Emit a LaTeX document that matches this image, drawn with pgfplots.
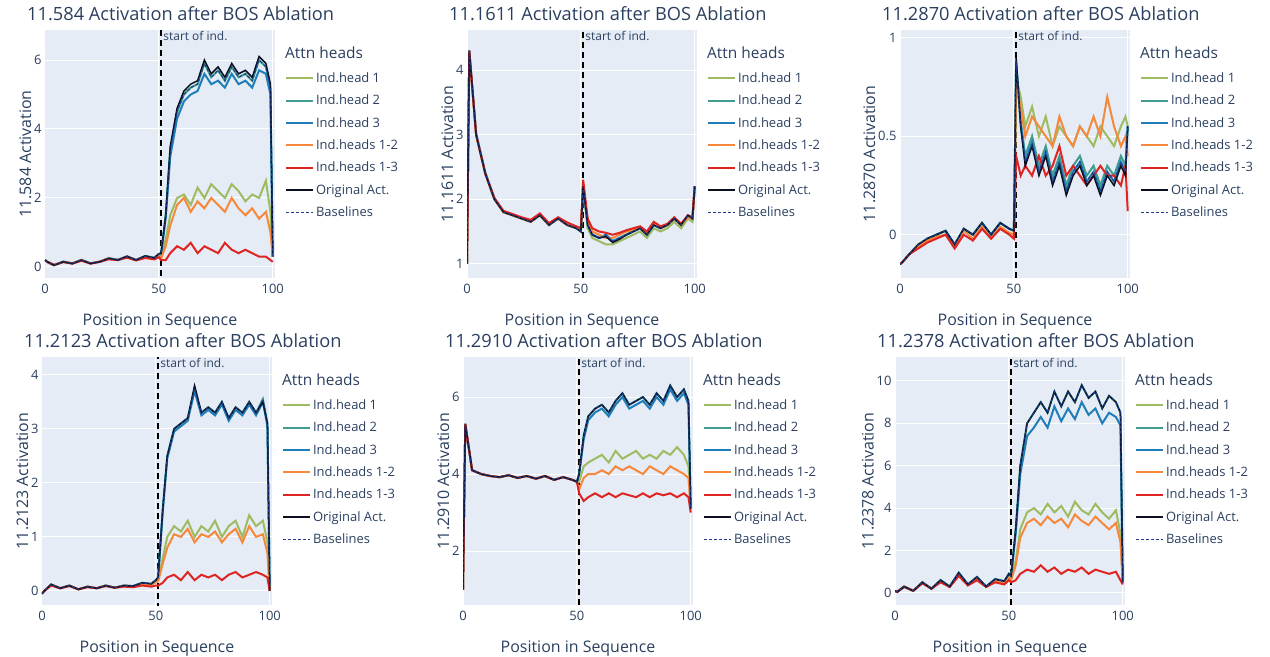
\documentclass[border=0pt]{standalone}
\usepackage{pgfplots}
\pgfplotsset{compat=1.18}
\usepackage{pgfplotstable}
\usepackage{fontspec}
\setmainfont{Open Sans}
\definecolor{txt}{HTML}{2A3F5F}
\definecolor{bgc}{HTML}{E5ECF6}
\definecolor{cA}{HTML}{9DBB61}
\definecolor{cB}{HTML}{3F9C8E}
\definecolor{cC}{HTML}{1F7DB9}
\definecolor{cD}{HTML}{F5883A}
\definecolor{cE}{HTML}{DF2424}
\definecolor{cF}{HTML}{0A1020}
\definecolor{cG}{HTML}{1F3A8A}
\pgfplotstableread{
x h1 h2 h3 h12 h13 orig base
0 0.20 0.20 0.20 0.20 0.20 0.20 0.20
1 0.15 0.15 0.14 0.15 0.15 0.15 0.15
4 0.05 0.06 0.05 0.05 0.06 0.05 0.05
8 0.15 0.15 0.16 0.15 0.14 0.15 0.15
12 0.10 0.10 0.10 0.11 0.10 0.10 0.10
16 0.20 0.20 0.21 0.20 0.18 0.20 0.20
20 0.10 0.11 0.10 0.10 0.10 0.10 0.11
24 0.15 0.15 0.15 0.16 0.15 0.15 0.15
28 0.25 0.26 0.25 0.25 0.22 0.25 0.25
32 0.20 0.20 0.21 0.20 0.20 0.20 0.20
36 0.30 0.31 0.30 0.30 0.27 0.31 0.30
40 0.20 0.21 0.20 0.20 0.19 0.20 0.21
44 0.30 0.32 0.31 0.30 0.26 0.32 0.31
48 0.25 0.27 0.26 0.25 0.22 0.26 0.26
50 0.35 0.38 0.36 0.34 0.28 0.38 0.37
51 0.30 0.40 0.38 0.25 0.20 0.40 0.40
53 0.80 1.50 1.40 0.60 0.20 1.50 1.50
55 1.50 3.40 3.20 1.20 0.40 3.50 3.40
58 2.00 4.50 4.30 1.80 0.60 4.60 4.50
61 2.10 5.00 4.80 2.00 0.50 5.10 5.00
64 1.80 5.20 5.00 1.60 0.70 5.30 5.20
67 2.30 5.30 5.10 1.90 0.40 5.40 5.30
70 2.00 5.90 5.60 1.70 0.60 6.00 5.90
73 2.40 5.50 5.30 2.00 0.50 5.60 5.50
76 2.20 5.70 5.40 1.80 0.40 5.80 5.70
79 2.00 5.40 5.20 1.60 0.70 5.50 5.40
82 2.40 5.80 5.60 2.00 0.50 5.90 5.80
85 2.20 5.50 5.30 1.70 0.40 5.60 5.50
88 1.90 5.60 5.40 1.50 0.50 5.70 5.60
91 2.10 5.40 5.20 1.70 0.40 5.50 5.40
94 2.00 6.00 5.70 1.40 0.30 6.10 6.00
97 2.50 5.80 5.60 1.60 0.30 5.90 5.80
99 1.60 5.20 5.00 1.00 0.20 5.30 5.20
100 0.30 0.30 0.30 0.30 0.15 0.30 0.30
}\tA
\pgfplotstableread{
x h1 h2 h3 h12 h13 orig base
0 1.00 1.00 1.00 1.00 1.00 1.00 1.00
1 4.25 4.30 4.30 4.25 4.30 4.30 4.30
4 3.00 3.00 3.02 3.00 3.00 3.00 3.00
8 2.40 2.40 2.42 2.40 2.40 2.40 2.40
12 2.00 2.00 2.02 2.00 2.02 2.00 2.00
16 1.80 1.80 1.80 1.80 1.82 1.80 1.80
20 1.75 1.75 1.76 1.75 1.77 1.75 1.75
24 1.70 1.70 1.70 1.70 1.72 1.70 1.70
28 1.65 1.66 1.65 1.65 1.68 1.65 1.65
32 1.75 1.75 1.76 1.75 1.78 1.75 1.75
36 1.60 1.60 1.60 1.60 1.63 1.60 1.60
40 1.70 1.70 1.71 1.70 1.72 1.70 1.70
44 1.60 1.60 1.60 1.60 1.64 1.60 1.60
48 1.55 1.55 1.56 1.56 1.58 1.55 1.55
50 1.50 1.50 1.50 1.52 1.55 1.50 1.50
51 2.20 2.20 2.20 2.25 2.30 2.20 2.20
53 1.55 1.60 1.60 1.65 1.70 1.60 1.60
55 1.40 1.45 1.45 1.50 1.55 1.45 1.45
58 1.35 1.40 1.40 1.45 1.50 1.40 1.40
61 1.30 1.45 1.45 1.40 1.48 1.42 1.45
64 1.30 1.35 1.35 1.40 1.45 1.33 1.35
67 1.35 1.40 1.40 1.45 1.48 1.38 1.40
70 1.40 1.45 1.45 1.50 1.52 1.45 1.45
73 1.45 1.50 1.50 1.52 1.55 1.50 1.50
76 1.50 1.55 1.55 1.55 1.58 1.55 1.55
79 1.40 1.45 1.45 1.48 1.50 1.45 1.45
82 1.55 1.60 1.60 1.62 1.65 1.60 1.60
85 1.50 1.55 1.55 1.55 1.58 1.55 1.55
88 1.55 1.60 1.60 1.60 1.62 1.60 1.60
91 1.65 1.70 1.70 1.70 1.72 1.70 1.70
94 1.55 1.60 1.60 1.60 1.62 1.60 1.60
97 1.70 1.75 1.75 1.72 1.75 1.75 1.75
99 1.65 1.70 1.70 1.70 1.72 1.70 1.70
100 2.20 2.20 2.20 2.20 2.20 2.20 2.20
}\tB
\pgfplotstableread{
x h1 h2 h3 h12 h13 orig base
0 -0.15 -0.15 -0.15 -0.15 -0.15 -0.15 -0.15
1 -0.14 -0.14 -0.14 -0.14 -0.14 -0.14 -0.14
4 -0.10 -0.10 -0.10 -0.10 -0.10 -0.10 -0.10
8 -0.05 -0.05 -0.06 -0.06 -0.07 -0.05 -0.05
12 -0.02 -0.02 -0.02 -0.03 -0.04 -0.02 -0.02
16 0.00 0.00 0.00 -0.01 -0.02 0.00 0.00
20 0.02 0.02 0.02 0.00 0.00 0.02 0.02
24 -0.05 -0.05 -0.05 -0.06 -0.07 -0.05 -0.05
28 0.03 0.03 0.03 0.02 0.00 0.03 0.03
32 0.00 0.00 0.00 -0.02 -0.03 0.00 0.00
36 0.06 0.06 0.06 0.04 0.03 0.06 0.06
40 0.00 0.00 0.00 -0.02 -0.02 0.00 0.00
44 0.06 0.06 0.06 0.04 0.03 0.06 0.06
48 0.03 0.03 0.03 0.01 0.00 0.03 0.03
50 0.02 0.02 0.02 0.00 -0.02 0.02 0.02
51 0.80 0.88 0.87 0.75 0.40 0.90 0.88
53 0.70 0.58 0.56 0.65 0.30 0.55 0.56
55 0.55 0.40 0.37 0.50 0.35 0.35 0.37
58 0.65 0.50 0.47 0.60 0.30 0.45 0.46
61 0.50 0.35 0.32 0.55 0.40 0.30 0.32
64 0.60 0.45 0.42 0.50 0.30 0.40 0.42
67 0.45 0.30 0.27 0.45 0.35 0.25 0.27
70 0.55 0.40 0.37 0.60 0.45 0.35 0.37
73 0.50 0.25 0.22 0.50 0.30 0.20 0.22
76 0.45 0.35 0.32 0.45 0.35 0.30 0.32
79 0.55 0.40 0.37 0.55 0.30 0.35 0.37
82 0.50 0.30 0.27 0.50 0.25 0.25 0.27
85 0.45 0.35 0.32 0.60 0.30 0.30 0.32
88 0.55 0.25 0.22 0.50 0.35 0.20 0.22
91 0.50 0.35 0.32 0.70 0.30 0.30 0.32
94 0.45 0.30 0.27 0.55 0.30 0.25 0.27
97 0.55 0.40 0.37 0.45 0.25 0.35 0.37
99 0.60 0.35 0.32 0.50 0.35 0.30 0.32
100 0.55 0.55 0.55 0.40 0.12 0.55 0.55
}\tC
\pgfplotstableread{
x h1 h2 h3 h12 h13 orig base
0 -0.05 -0.05 -0.05 -0.05 -0.05 -0.05 -0.05
1 0.00 0.00 0.00 0.00 0.00 0.00 0.00
4 0.12 0.12 0.12 0.12 0.10 0.12 0.12
8 0.05 0.05 0.05 0.05 0.05 0.05 0.05
12 0.10 0.10 0.10 0.10 0.09 0.10 0.10
16 0.03 0.03 0.03 0.03 0.03 0.03 0.03
20 0.08 0.08 0.08 0.08 0.07 0.08 0.08
24 0.05 0.05 0.05 0.05 0.05 0.05 0.05
28 0.10 0.10 0.10 0.10 0.09 0.10 0.10
32 0.06 0.06 0.06 0.06 0.06 0.06 0.06
36 0.10 0.10 0.10 0.10 0.08 0.10 0.10
40 0.08 0.09 0.09 0.08 0.07 0.09 0.09
44 0.14 0.15 0.15 0.13 0.10 0.15 0.15
48 0.12 0.13 0.13 0.11 0.08 0.13 0.13
50 0.18 0.20 0.20 0.16 0.10 0.20 0.20
51 0.20 0.25 0.25 0.18 0.10 0.25 0.25
53 0.60 1.50 1.45 0.50 0.15 1.50 1.50
55 1.00 2.50 2.45 0.80 0.25 2.50 2.50
58 1.20 3.00 2.95 1.05 0.30 3.00 3.00
61 1.10 3.10 3.05 1.00 0.20 3.10 3.10
64 1.30 3.20 3.15 1.15 0.35 3.20 3.20
67 1.00 3.75 3.70 0.90 0.20 3.80 3.75
70 1.20 3.30 3.25 1.05 0.30 3.30 3.30
73 1.10 3.40 3.35 1.00 0.25 3.40 3.40
76 1.30 3.30 3.25 1.10 0.30 3.30 3.30
79 1.00 3.50 3.45 0.90 0.20 3.50 3.50
82 1.20 3.20 3.15 1.05 0.30 3.20 3.20
85 1.30 3.40 3.35 1.15 0.35 3.40 3.40
88 1.00 3.30 3.25 0.90 0.25 3.30 3.30
91 1.40 3.50 3.45 1.20 0.30 3.50 3.50
94 1.20 3.30 3.25 1.00 0.35 3.30 3.30
97 1.30 3.55 3.50 1.05 0.30 3.50 3.55
99 0.90 3.10 3.05 0.70 0.25 3.10 3.10
100 0.00 0.00 0.00 0.00 0.00 0.00 0.00
}\tD
\pgfplotstableread{
x h1 h2 h3 h12 h13 orig base
0 1.00 1.00 1.00 1.00 1.00 1.00 1.00
1 5.30 5.30 5.30 5.30 5.30 5.30 5.30
4 4.10 4.10 4.10 4.10 4.10 4.10 4.10
8 4.00 4.00 4.00 4.00 4.00 4.00 4.00
12 3.95 3.95 3.95 3.95 3.95 3.95 3.95
16 3.92 3.92 3.92 3.92 3.92 3.92 3.92
20 3.97 3.97 3.97 3.97 3.97 3.97 3.97
24 3.90 3.90 3.90 3.90 3.90 3.90 3.90
28 3.95 3.95 3.95 3.95 3.95 3.95 3.95
32 3.88 3.88 3.88 3.88 3.88 3.88 3.88
36 3.95 3.95 3.95 3.95 3.95 3.95 3.95
40 3.85 3.85 3.85 3.85 3.85 3.85 3.85
44 3.92 3.92 3.92 3.92 3.92 3.92 3.92
48 3.85 3.85 3.85 3.85 3.85 3.85 3.85
50 3.80 3.80 3.80 3.80 3.80 3.80 3.80
51 3.80 4.00 4.00 3.60 3.50 4.00 4.00
53 4.20 5.00 4.90 3.90 3.30 5.00 5.00
55 4.30 5.50 5.40 4.00 3.40 5.50 5.50
58 4.40 5.70 5.60 4.00 3.50 5.70 5.70
61 4.50 5.80 5.70 4.10 3.40 5.80 5.80
64 4.30 5.60 5.50 4.00 3.50 5.60 5.60
67 4.60 5.90 5.80 4.20 3.40 5.90 5.90
70 4.40 6.10 6.00 4.10 3.50 6.10 6.10
73 4.50 5.80 5.70 4.20 3.45 5.80 5.80
76 4.60 5.90 5.80 4.10 3.40 5.90 5.90
79 4.40 6.00 5.90 4.00 3.50 6.00 6.00
82 4.50 5.80 5.70 4.20 3.40 5.80 5.80
85 4.40 6.10 6.00 4.10 3.50 6.10 6.10
88 4.60 5.90 5.80 4.00 3.45 5.90 5.90
91 4.50 6.30 6.20 4.20 3.50 6.30 6.30
94 4.70 6.00 5.90 4.10 3.40 6.00 6.00
97 4.50 6.20 6.10 4.00 3.50 6.20 6.20
99 4.20 5.90 5.80 3.90 3.40 5.90 5.90
100 3.10 3.10 3.10 3.10 3.00 3.10 3.10
}\tE
\pgfplotstableread{
x h1 h2 h3 h12 h13 orig base
0 0.10 0.10 0.10 0.10 0.10 0.10 0.10
1 0.05 0.05 0.05 0.05 0.05 0.05 0.05
4 0.30 0.30 0.30 0.30 0.28 0.30 0.30
8 0.10 0.10 0.10 0.10 0.10 0.10 0.10
12 0.50 0.50 0.50 0.48 0.45 0.50 0.50
16 0.20 0.20 0.20 0.20 0.20 0.20 0.20
20 0.60 0.60 0.60 0.55 0.50 0.60 0.60
24 0.30 0.30 0.30 0.30 0.28 0.30 0.30
28 0.90 0.95 0.95 0.85 0.80 0.95 0.95
32 0.40 0.40 0.40 0.40 0.35 0.40 0.40
36 0.70 0.75 0.75 0.65 0.60 0.75 0.75
40 0.30 0.30 0.30 0.30 0.28 0.30 0.30
44 0.60 0.65 0.65 0.55 0.50 0.65 0.65
48 0.50 0.55 0.55 0.45 0.40 0.55 0.55
50 0.80 0.90 0.90 0.70 0.60 0.90 0.90
51 0.70 0.80 0.80 0.60 0.50 0.80 0.80
53 1.50 3.00 2.80 1.30 0.60 3.00 3.00
55 3.00 6.00 5.60 2.60 0.90 6.00 6.00
58 3.80 8.00 7.40 3.30 1.10 8.00 8.00
61 4.00 8.50 7.80 3.50 1.00 8.50 8.50
64 3.70 9.00 8.30 3.20 1.30 9.00 9.00
67 4.20 8.50 7.80 3.60 1.00 8.50 8.50
70 3.80 9.50 8.80 3.30 1.20 9.50 9.50
73 4.10 8.80 8.10 3.50 0.90 8.80 8.80
76 3.60 9.50 8.70 3.10 1.10 9.50 9.50
79 4.30 9.00 8.20 3.70 1.00 9.00 9.00
82 3.90 9.80 9.00 3.40 1.20 9.80 9.80
85 3.70 9.20 8.40 3.20 0.90 9.20 9.20
88 4.20 9.50 8.70 3.60 1.10 9.50 9.50
91 3.80 8.70 8.00 3.30 1.00 8.70 8.70
94 3.50 9.30 8.50 3.00 0.90 9.30 9.30
97 3.90 9.00 8.30 3.30 1.00 9.00 9.00
99 2.80 8.50 7.90 2.40 0.60 8.50 8.50
100 0.50 0.50 0.50 0.50 0.40 0.50 0.50
}\tF
\pgfplotsset{
 every axis/.style={
  scale only axis, width=230bp, height=248bp, anchor=north west,
  xmin=0, xmax=101, xtick={0,50,100},
  axis background/.style={fill=bgc},
  axis line style={draw=none}, major tick style={draw=none},
  grid=major, grid style={white, line width=1bp},
  tick label style={font=\fontsize{13}{15}\selectfont, text=txt},
  xticklabel style={yshift=-3bp},
  label style={font=\fontsize{16}{19}\selectfont, text=txt},
  xlabel={Position in Sequence},
  xlabel style={yshift=-13bp},
  ylabel style={yshift=-4bp},
  /pgf/number format/assume math mode=true,
  legend style={at={(1.03,0.845)}, anchor=north west, draw=none, fill=none,
   font=\fontsize{13}{15}\selectfont, text=txt, row sep=7bp},
  legend cell align=left,
  legend image code/.code={\draw[##1] (0bp,0bp)--(27bp,0bp);},
 }}
\newcommand\panel[8]{%
\begin{axis}[name=ax, at={(#1bp,-#2bp)}, ymin=#4, ymax=#5, ytick={#6}, ylabel={#7 Activation}]
\addplot[forget plot, black, dash pattern=on 6bp off 4bp, line width=2bp] coordinates {(51,-2) (51,12)};
\addplot[cA, line width=2bp] table[y=h1] {#3}; \addlegendentry{Ind.head 1}
\addplot[cB, line width=2bp] table[y=h2] {#3}; \addlegendentry{Ind.head 2}
\addplot[cC, line width=2bp] table[y=h3] {#3}; \addlegendentry{Ind.head 3}
\addplot[cD, line width=2bp] table[y=h12] {#3}; \addlegendentry{Ind.heads 1-2}
\addplot[cE, line width=2bp] table[y=h13] {#3}; \addlegendentry{Ind.heads 1-3}
\addplot[cF, line width=1.5bp] table[y=orig] {#3}; \addlegendentry{Original Act.}
\addplot[cG, line width=1bp, dash pattern=on 3bp off 2bp] table[y=base] {#3}; \addlegendentry{Baselines}
\node[anchor=north west, inner sep=1bp, font=\fontsize{12}{14}\selectfont, text=txt] at (axis cs:51.5,#5) {start of ind.};
\end{axis}
\node[anchor=west, inner sep=0pt, font=\fontsize{15.5}{17}\selectfont, text=txt] at ([xshift=10bp,yshift=-23bp]ax.north east) {Attn heads};
\node[anchor=base west, inner sep=0pt, font=\fontsize{18.3}{21}\selectfont, text=txt] at (#1bp-18bp,-#2bp+10bp) {#8};
}
\begin{document}
\begin{tikzpicture}
\path[use as bounding box] (0,0) rectangle (1270bp,-657bp);
\panel{45}{30}{\tA}{-0.32}{6.87}{0,2,4,6}{11.584}{11.584 Activation after BOS Ablation}
\panel{467}{30}{\tB}{0.78}{4.62}{1,2,3,4}{11.1611}{11.1611 Activation after BOS Ablation}
\panel{900}{30}{\tC}{-0.22}{1.04}{0,0.5,1}{11.2870}{11.2870 Activation after BOS Ablation}
\panel{42}{357}{\tD}{-0.26}{4.33}{0,1,2,3,4}{11.2123}{11.2123 Activation after BOS Ablation}
\panel{463}{357}{\tE}{0.60}{7.04}{2,4,6}{11.2910}{11.2910 Activation after BOS Ablation}
\panel{895}{357}{\tF}{-0.57}{11.13}{0,2,4,6,8,10}{11.2378}{11.2378 Activation after BOS Ablation}
\end{tikzpicture}
\end{document}
